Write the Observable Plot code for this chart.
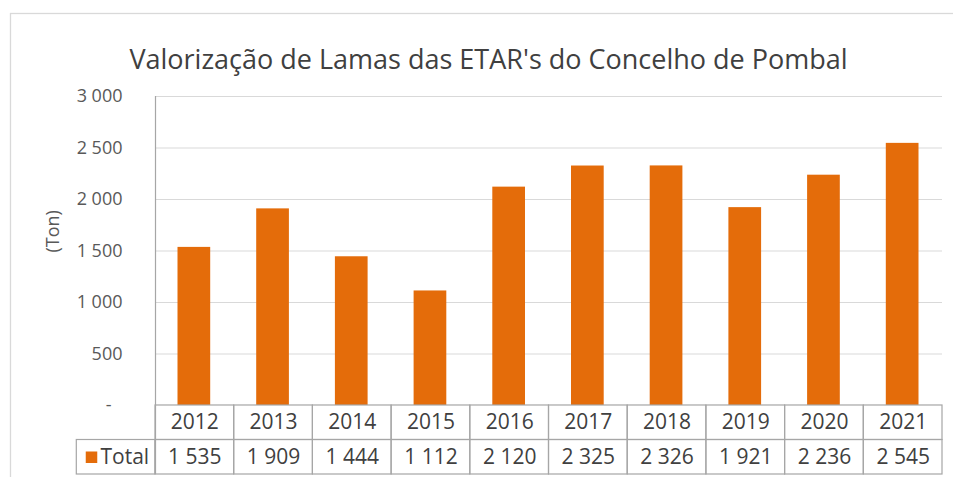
<!DOCTYPE html>
<html>
<head>
<meta charset="utf-8">
<script src="https://cdn.jsdelivr.net/npm/d3@7"></script>
<script src="https://cdn.jsdelivr.net/npm/@observablehq/plot@0.6"></script>
<style>
  html, body { margin: 0; padding: 0; background: #fff; overflow: hidden; }
  #chart svg { overflow: hidden; }
</style>
</head>
<body>
<div id="chart"></div>
<script>
// ---- data ----
const chartTitle = "Valorização de Lamas das ETAR's do Concelho de Pombal";
const yLabel = "(Ton)";
const seriesName = "Total";
const years = [2012, 2013, 2014, 2015, 2016, 2017, 2018, 2019, 2020, 2021];
const totals = [1535, 1909, 1444, 1112, 2120, 2325, 2326, 1921, 2236, 2545];
const yTicks = [500, 1000, 1500, 2000, 2500, 3000];
const zeroTick = [0];

// ---- layout / style ----
const W = 953, H = 477;
const mL = 155, mR = 11, mT = 96, mB = 3;
const rowH = 335;               // table row height in y units
const colW = (W - mL - mR) / years.length;
const orange = "#E46C0A";
const gridC = "#d9d9d9";
const tableC = "#a6a6a6";
const textC = "#404040";
const font = "'Open Sans', sans-serif";

const loc = d3.formatLocale({decimal: ",", thousands: "\u00a0", grouping: [3]});
const fmt = loc.format(",d");
const rows = years.map((y, i) => ({year: y, total: totals[i]}));

const chart = Plot.plot({
  width: W, height: H,
  marginLeft: mL, marginRight: mR, marginTop: mT, marginBottom: mB,
  style: {fontFamily: font, color: textC, background: "#fff"},
  x: {type: "band", domain: years, padding: 0, round: false, axis: null},
  y: {domain: [-2 * rowH, 3000], axis: null},
  marks: [
    // outer chart-area border
    Plot.frame({stroke: gridC, strokeWidth: 1.3, insetLeft: -(mL - 10), insetTop: -(mT - 13), insetRight: -40, insetBottom: -40}),
    // gridlines
    Plot.ruleY(yTicks, {stroke: gridC, strokeWidth: 1.2}),
    // bars
    Plot.barY(rows, {x: "year", y: "total", fill: orange, insetLeft: 22.5, insetRight: 23.5}),
    // y axis line
    Plot.ruleX([years[0]], {y1: -2 * rowH, y2: 3000, stroke: tableC, strokeWidth: 1.2, dx: -colW / 2}),
    // y tick labels
    Plot.axisY(yTicks, {label: null, tickSize: 0, tickPadding: 33, tickFormat: fmt, fontSize: 18, fill: "#595959"}),
    Plot.axisY(zeroTick, {label: null, tickSize: 0, tickPadding: 44, tickFormat: () => "-", fontSize: 18, fill: "#595959"}),
    // y axis title
    Plot.text([yLabel], {frameAnchor: "left", rotate: -90, dx: -102, dy: -33, fontSize: 18, fill: "#595959"}),
    // title
    Plot.text([chartTitle], {frameAnchor: "top", dx: (488 - (mL + W - mR) / 2), dy: -47, fontSize: 27, fill: textC}),
    // data table: year row
    Plot.barY(years, {x: d => d, y1: -rowH, y2: 0, fill: "none", stroke: tableC, strokeWidth: 1.2}),
    Plot.text(years, {x: d => d, y: -rowH / 2, text: d => String(d), fontSize: 21, fill: textC}),
    // data table: total row
    Plot.barY(rows, {x: "year", y1: -2 * rowH, y2: -rowH, fill: "none", stroke: tableC, strokeWidth: 1.2}),
    Plot.text(rows, {x: "year", y: -1.5 * rowH, text: d => fmt(d.total), fontSize: 21, fill: textC}),
    // legend cell
    Plot.barY([seriesName], {x: () => years[0], y1: -2 * rowH, y2: -rowH, fill: "none", stroke: tableC, strokeWidth: 1.2, insetLeft: -colW, insetRight: colW}),
    Plot.dot([seriesName], {x: () => years[0], y: -1.5 * rowH, symbol: "square", r: 6.5, fill: orange, stroke: "none", dx: -(mL - 91) - colW / 2}),
    Plot.text([seriesName], {x: () => years[0], y: -1.5 * rowH, text: d => d, textAnchor: "start", fontSize: 21, fill: textC, dx: -(mL - 100) - colW / 2})
  ]
});
document.getElementById("chart").append(chart);
</script>
</body>
</html>
